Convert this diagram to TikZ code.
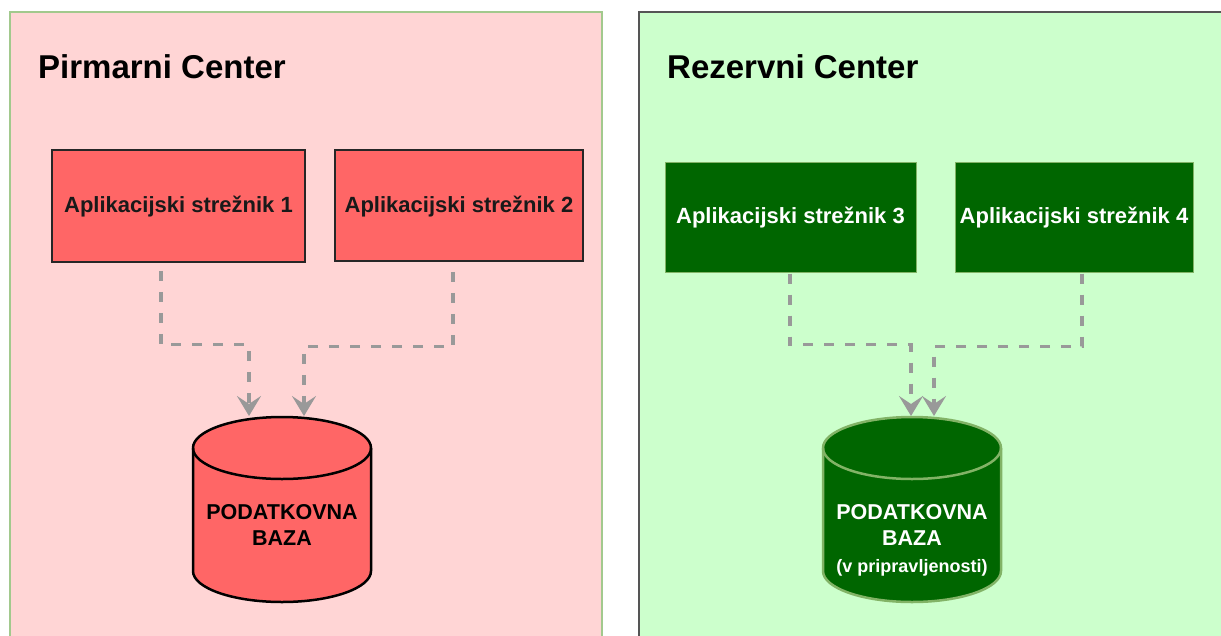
\documentclass[tikz,border=0pt]{standalone}
\usepackage{fontspec}
\setmainfont{Liberation Sans}
\usetikzlibrary{arrows.meta}
\definecolor{pinkbg}{HTML}{FFD5D5}
\definecolor{greenbg}{HTML}{CCFFCC}
\definecolor{redfill}{HTML}{FF6666}
\definecolor{darkgreen}{HTML}{006600}
\definecolor{lgreen}{HTML}{82B366}
\definecolor{lborder}{HTML}{A2C98D}
\definecolor{rborder}{HTML}{555555}
\definecolor{conngray}{HTML}{999999}
\begin{document}
\begin{tikzpicture}[x=1pt,y=-1pt,
  paneltitle/.style={font=\fontsize{33}{39}\selectfont\bfseries, anchor=base west, inner sep=0pt},
  srvtext/.style={font=\fontsize{22}{26}\selectfont\bfseries, inner sep=0pt, text height=18.5pt, text depth=4.6pt},
  redsrv/.style={srvtext, draw=black!85, line width=1.5pt, fill=redfill, text=black!90},
  greensrv/.style={srvtext, draw=lgreen, line width=1pt, fill=darkgreen, text=white},
  dbbox/.style={inner sep=0pt, outer sep=0pt, minimum width=178pt, minimum height=185pt},
  dbtext/.style={anchor=base, inner sep=0pt, font=\fontsize{21.5}{25}\selectfont\bfseries},
  dbsmall/.style={anchor=base, inner sep=0pt, font=\fontsize{18}{22}\selectfont\bfseries},
  conn/.style={draw=conngray, line width=3.2pt, dash pattern=on 10pt off 11pt,
    -{Stealth[length=20pt,width=24pt,inset=8pt]}},
  cylred/.style={fill=redfill, draw=black, line width=2.5pt},
  cylgreen/.style={fill=darkgreen, draw=lgreen, line width=2.5pt},
]
\useasboundingbox (0,0) rectangle (1221,635);
\clip (0,0) rectangle (1221,635);
\fill[white] (0,0) rectangle (1221,635);

% panels
\draw[fill=pinkbg, draw=lborder, line width=2pt] (10,12) rectangle (602,670);
\draw[fill=greenbg, draw=rborder, line width=2.5pt] (639,12) rectangle (1260,670);

% titles
\node[paneltitle] (t1) at (38,78) {Pirmarni Center};
\node[paneltitle] (t2) at (667,78) {Rezervni Center};

% servers
\node[redsrv, minimum width=253pt, minimum height=112pt] (s1) at (178.5,206) {Aplikacijski strežnik 1};
\node[redsrv, minimum width=248pt, minimum height=111pt] (s2) at (459,205.5) {Aplikacijski strežnik 2};
\node[greensrv, minimum width=251pt, minimum height=110pt] (s3) at (790.5,217) {Aplikacijski strežnik 3};
\node[greensrv, minimum width=238pt, minimum height=110pt] (s4) at (1074,217) {Aplikacijski strežnik 4};

% databases
\node[dbbox] (db1) at (282,509.5) {};
\draw[cylred] ([yshift=-31pt]db1.north west) -- ([yshift=31pt]db1.south west)
  arc[start angle=180, end angle=360, x radius=89pt, y radius=31pt]
  -- ([yshift=-31pt]db1.north east)
  arc[start angle=0, end angle=180, x radius=89pt, y radius=31pt] -- cycle;
\draw[cylred, fill=none] ([yshift=-31pt]db1.north west)
  arc[start angle=180, end angle=360, x radius=89pt, y radius=31pt];
\node[dbtext] (db1a) at (282,519) {PODATKOVNA};
\node[dbtext] (db1b) at (282,545) {BAZA};

\node[dbbox] (db2) at (912,509.5) {};
\draw[cylgreen] ([yshift=-31pt]db2.north west) -- ([yshift=31pt]db2.south west)
  arc[start angle=180, end angle=360, x radius=89pt, y radius=31pt]
  -- ([yshift=-31pt]db2.north east)
  arc[start angle=0, end angle=180, x radius=89pt, y radius=31pt] -- cycle;
\draw[cylgreen, fill=none] ([yshift=-31pt]db2.north west)
  arc[start angle=180, end angle=360, x radius=89pt, y radius=31pt];
\node[dbtext, text=white] (db2a) at (912,519) {PODATKOVNA};
\node[dbtext, text=white] (db2b) at (912,545) {BAZA};
\node[dbsmall, text=white] (db2c) at (912,572) {(v pripravljenosti)};

% connectors
\draw[conn] ([xshift=-17.5pt,yshift=-8pt]s1.south) -- ++(0,74) -| ([xshift=-33pt,yshift=1pt]db1.north);
\draw[conn] ([xshift=-6pt,yshift=-10pt]s2.south) -- ++(0,75) -| ([xshift=22pt,yshift=1pt]db1.north);
\draw[conn] ([xshift=-0.5pt,yshift=-1pt]s3.south) -- ++(0,71) -| ([xshift=-1pt,yshift=1pt]db2.north);
\draw[conn] ([xshift=8pt,yshift=-1pt]s4.south) -- ++(0,73) -| ([xshift=22pt,yshift=1pt]db2.north);
\end{tikzpicture}
\end{document}
